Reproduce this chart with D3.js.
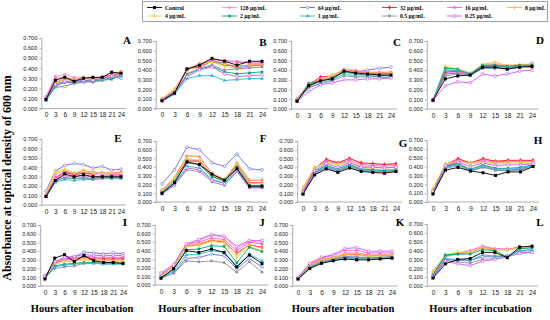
<!DOCTYPE html>
<html>
<head>
<meta charset="utf-8">
<script src="https://cdn.jsdelivr.net/npm/d3@7/dist/d3.min.js"></script>
<style>
  html, body { margin: 0; padding: 0; background: #fff; }
  svg { display: block; font-family: "Liberation Serif", "Times New Roman", serif; }
</style>
</head>
<body>
<div id="chart"></div>
<script>
// --- data (absorbance, OD600) ---
const hours = [0, 3, 6, 9, 12, 15, 18, 21, 24];
const seriesNames = ["Control", "128 µg/mL", "64 µg/mL", "32 µg/mL", "16 µg/mL", "8 µg/mL",
                     "4 µg/mL", "2 µg/mL", "1 µg/mL", "0.5 µg/mL", "0.25 µg/mL"];
const yTicks = [0, 0.1, 0.2, 0.3, 0.4, 0.5, 0.6, 0.7];
const panelLetters = ["A", "B", "C", "D", "E", "F", "G", "H", "I", "J", "K", "L"];

// rows follow seriesNames order
const panelA = [
  [0.09,0.28,0.31,0.27,0.30,0.31,0.31,0.36,0.35],
  [0.12,0.32,0.34,0.31,0.31,0.30,0.31,0.33,0.36],
  [0.09,0.21,0.22,0.25,0.26,0.27,0.29,0.31,0.30],
  [0.10,0.26,0.29,0.28,0.30,0.29,0.31,0.33,0.35],
  [0.11,0.30,0.31,0.29,0.31,0.30,0.31,0.34,0.36],
  [0.10,0.26,0.30,0.29,0.31,0.28,0.30,0.33,0.37],
  [0.10,0.25,0.29,0.28,0.30,0.29,0.30,0.32,0.35],
  [0.08,0.22,0.26,0.26,0.28,0.27,0.28,0.29,0.33],
  [0.08,0.24,0.27,0.26,0.27,0.27,0.29,0.30,0.32],
  [0.09,0.23,0.26,0.25,0.27,0.26,0.28,0.31,0.33],
  [0.10,0.24,0.27,0.27,0.28,0.28,0.30,0.32,0.34]
];
const panelB = [
  [0.08,0.16,0.41,0.45,0.52,0.49,0.45,0.49,0.49],
  [0.09,0.19,0.40,0.46,0.50,0.49,0.49,0.48,0.48],
  [0.09,0.17,0.40,0.45,0.49,0.47,0.42,0.44,0.45],
  [0.09,0.17,0.41,0.43,0.49,0.45,0.44,0.45,0.45],
  [0.10,0.19,0.41,0.46,0.51,0.50,0.48,0.47,0.47],
  [0.10,0.20,0.40,0.47,0.48,0.46,0.44,0.45,0.45],
  [0.10,0.20,0.39,0.46,0.48,0.44,0.41,0.43,0.43],
  [0.08,0.15,0.35,0.41,0.44,0.38,0.36,0.37,0.38],
  [0.08,0.15,0.31,0.34,0.34,0.29,0.30,0.31,0.31],
  [0.09,0.16,0.36,0.42,0.45,0.40,0.41,0.42,0.43],
  [0.09,0.16,0.33,0.40,0.43,0.36,0.33,0.34,0.35]
];
const panelC = [
  [0.08,0.24,0.29,0.31,0.39,0.37,0.36,0.35,0.35],
  [0.10,0.27,0.30,0.34,0.41,0.40,0.38,0.38,0.38],
  [0.09,0.23,0.29,0.32,0.38,0.38,0.40,0.42,0.43],
  [0.10,0.25,0.33,0.34,0.40,0.39,0.37,0.36,0.37],
  [0.10,0.25,0.31,0.33,0.40,0.38,0.37,0.37,0.37],
  [0.09,0.26,0.30,0.35,0.40,0.39,0.38,0.37,0.38],
  [0.09,0.25,0.29,0.34,0.39,0.37,0.36,0.35,0.36],
  [0.08,0.26,0.29,0.32,0.38,0.36,0.35,0.35,0.34],
  [0.08,0.22,0.27,0.30,0.36,0.34,0.34,0.33,0.33],
  [0.09,0.22,0.26,0.29,0.34,0.33,0.33,0.33,0.32],
  [0.08,0.18,0.25,0.27,0.30,0.30,0.31,0.31,0.32]
];
const panelD = [
  [0.09,0.31,0.34,0.35,0.43,0.43,0.41,0.43,0.44],
  [0.09,0.37,0.38,0.36,0.44,0.45,0.43,0.44,0.45],
  [0.09,0.36,0.37,0.35,0.42,0.42,0.42,0.43,0.47],
  [0.09,0.38,0.39,0.36,0.44,0.44,0.43,0.44,0.43],
  [0.09,0.40,0.40,0.36,0.45,0.46,0.44,0.45,0.46],
  [0.09,0.43,0.41,0.37,0.46,0.48,0.45,0.46,0.46],
  [0.09,0.44,0.41,0.37,0.45,0.47,0.44,0.45,0.45],
  [0.09,0.42,0.41,0.36,0.45,0.45,0.44,0.45,0.45],
  [0.09,0.40,0.40,0.36,0.44,0.44,0.43,0.44,0.44],
  [0.09,0.34,0.36,0.34,0.42,0.42,0.41,0.43,0.44],
  [0.09,0.24,0.28,0.27,0.36,0.34,0.36,0.39,0.40]
];
const panelE = [
  [0.09,0.26,0.33,0.30,0.32,0.30,0.30,0.30,0.30],
  [0.11,0.30,0.34,0.33,0.34,0.32,0.33,0.32,0.32],
  [0.15,0.36,0.42,0.44,0.43,0.39,0.41,0.37,0.38],
  [0.10,0.28,0.35,0.32,0.34,0.33,0.34,0.33,0.33],
  [0.10,0.29,0.36,0.33,0.36,0.35,0.34,0.34,0.35],
  [0.11,0.33,0.37,0.34,0.36,0.34,0.34,0.34,0.34],
  [0.12,0.35,0.38,0.34,0.37,0.34,0.33,0.34,0.33],
  [0.09,0.26,0.29,0.28,0.29,0.28,0.30,0.29,0.29],
  [0.09,0.24,0.27,0.26,0.27,0.27,0.28,0.28,0.28],
  [0.09,0.25,0.29,0.28,0.29,0.27,0.29,0.29,0.29],
  [0.10,0.27,0.31,0.30,0.31,0.30,0.31,0.31,0.31]
];
const panelF = [
  [0.10,0.22,0.46,0.43,0.32,0.25,0.38,0.18,0.18],
  [0.12,0.26,0.49,0.47,0.31,0.25,0.42,0.21,0.21],
  [0.21,0.37,0.63,0.60,0.45,0.41,0.55,0.38,0.37],
  [0.13,0.27,0.47,0.47,0.30,0.24,0.43,0.22,0.22],
  [0.14,0.28,0.53,0.52,0.32,0.26,0.45,0.25,0.25],
  [0.14,0.28,0.53,0.52,0.33,0.26,0.45,0.25,0.25],
  [0.13,0.27,0.50,0.48,0.31,0.25,0.44,0.21,0.21],
  [0.11,0.24,0.45,0.43,0.29,0.24,0.40,0.19,0.19],
  [0.10,0.21,0.41,0.39,0.26,0.22,0.38,0.17,0.17],
  [0.09,0.19,0.37,0.35,0.23,0.19,0.35,0.16,0.16],
  [0.10,0.20,0.39,0.37,0.25,0.21,0.36,0.17,0.17]
];
const panelG = [
  [0.09,0.31,0.38,0.34,0.39,0.35,0.34,0.33,0.35],
  [0.12,0.38,0.48,0.45,0.50,0.44,0.44,0.43,0.44],
  [0.10,0.33,0.40,0.36,0.41,0.37,0.36,0.35,0.36],
  [0.12,0.38,0.49,0.45,0.50,0.45,0.44,0.43,0.44],
  [0.13,0.39,0.47,0.44,0.48,0.43,0.42,0.41,0.42],
  [0.15,0.39,0.45,0.44,0.46,0.41,0.40,0.39,0.40],
  [0.17,0.40,0.44,0.43,0.45,0.40,0.38,0.37,0.38],
  [0.11,0.35,0.42,0.38,0.43,0.38,0.37,0.36,0.37],
  [0.10,0.34,0.41,0.37,0.42,0.37,0.36,0.35,0.36],
  [0.09,0.32,0.39,0.35,0.40,0.36,0.35,0.34,0.35],
  [0.11,0.36,0.44,0.40,0.45,0.40,0.40,0.39,0.40]
];
const panelH = [
  [0.09,0.36,0.39,0.35,0.33,0.30,0.34,0.34,0.40],
  [0.12,0.42,0.48,0.44,0.48,0.46,0.47,0.47,0.47],
  [0.10,0.40,0.44,0.35,0.40,0.36,0.36,0.37,0.41],
  [0.12,0.42,0.49,0.44,0.49,0.46,0.47,0.47,0.47],
  [0.13,0.42,0.47,0.44,0.47,0.45,0.46,0.46,0.46],
  [0.14,0.43,0.46,0.44,0.46,0.44,0.45,0.45,0.45],
  [0.15,0.43,0.45,0.43,0.45,0.43,0.44,0.44,0.44],
  [0.11,0.40,0.43,0.37,0.42,0.38,0.38,0.39,0.42],
  [0.10,0.39,0.42,0.36,0.41,0.37,0.37,0.38,0.41],
  [0.10,0.38,0.41,0.35,0.39,0.36,0.35,0.36,0.40],
  [0.12,0.41,0.45,0.40,0.44,0.41,0.42,0.42,0.43]
];
const panelI = [
  [0.08,0.32,0.36,0.28,0.35,0.29,0.27,0.27,0.26],
  [0.11,0.27,0.32,0.32,0.34,0.33,0.32,0.32,0.32],
  [0.12,0.25,0.31,0.33,0.39,0.38,0.37,0.38,0.37],
  [0.10,0.26,0.30,0.30,0.33,0.31,0.31,0.31,0.31],
  [0.11,0.27,0.31,0.32,0.34,0.33,0.33,0.33,0.33],
  [0.11,0.26,0.30,0.30,0.31,0.30,0.29,0.29,0.29],
  [0.12,0.25,0.28,0.28,0.30,0.29,0.28,0.28,0.28],
  [0.09,0.23,0.25,0.26,0.27,0.27,0.26,0.26,0.26],
  [0.09,0.22,0.24,0.25,0.26,0.26,0.25,0.25,0.25],
  [0.10,0.20,0.22,0.23,0.26,0.26,0.26,0.26,0.26],
  [0.11,0.28,0.33,0.34,0.36,0.35,0.35,0.35,0.35]
];
const panelJ = [
  [0.08,0.19,0.40,0.38,0.42,0.38,0.21,0.35,0.25],
  [0.13,0.23,0.47,0.52,0.58,0.56,0.43,0.51,0.50],
  [0.08,0.14,0.31,0.32,0.36,0.34,0.19,0.31,0.21],
  [0.11,0.21,0.45,0.47,0.52,0.50,0.37,0.47,0.44],
  [0.12,0.22,0.47,0.50,0.55,0.53,0.40,0.50,0.48],
  [0.11,0.21,0.46,0.48,0.53,0.51,0.36,0.47,0.43],
  [0.10,0.21,0.45,0.46,0.51,0.49,0.32,0.45,0.40],
  [0.09,0.18,0.41,0.42,0.46,0.45,0.26,0.44,0.39],
  [0.09,0.16,0.35,0.36,0.40,0.38,0.22,0.36,0.28],
  [0.08,0.14,0.28,0.27,0.28,0.26,0.15,0.27,0.15],
  [0.14,0.24,0.48,0.53,0.59,0.57,0.45,0.52,0.52]
];
const panelK = [
  [0.08,0.20,0.26,0.29,0.31,0.30,0.30,0.31,0.32],
  [0.10,0.24,0.31,0.33,0.38,0.38,0.36,0.36,0.36],
  [0.09,0.22,0.28,0.31,0.34,0.33,0.33,0.33,0.34],
  [0.09,0.23,0.30,0.32,0.36,0.36,0.35,0.35,0.35],
  [0.10,0.25,0.32,0.35,0.41,0.41,0.38,0.38,0.38],
  [0.09,0.24,0.30,0.33,0.37,0.37,0.35,0.35,0.36],
  [0.09,0.23,0.29,0.32,0.36,0.35,0.34,0.34,0.35],
  [0.08,0.21,0.27,0.30,0.33,0.32,0.32,0.32,0.33],
  [0.08,0.21,0.27,0.29,0.32,0.31,0.31,0.31,0.32],
  [0.09,0.22,0.28,0.30,0.33,0.33,0.32,0.32,0.33],
  [0.10,0.26,0.33,0.36,0.43,0.44,0.40,0.40,0.40]
];
const panelL = [
  [0.09,0.25,0.30,0.31,0.38,0.38,0.32,0.44,0.45],
  [0.12,0.33,0.36,0.38,0.44,0.42,0.41,0.43,0.44],
  [0.10,0.30,0.29,0.29,0.33,0.33,0.34,0.40,0.41],
  [0.13,0.34,0.37,0.38,0.43,0.41,0.41,0.44,0.44],
  [0.14,0.34,0.37,0.40,0.45,0.42,0.42,0.43,0.44],
  [0.16,0.35,0.38,0.38,0.43,0.41,0.41,0.43,0.44],
  [0.17,0.35,0.38,0.38,0.43,0.41,0.41,0.43,0.44],
  [0.12,0.35,0.36,0.36,0.41,0.40,0.33,0.42,0.43],
  [0.11,0.31,0.30,0.29,0.35,0.34,0.34,0.39,0.40],
  [0.10,0.29,0.27,0.26,0.30,0.31,0.33,0.37,0.38],
  [0.10,0.28,0.25,0.23,0.28,0.30,0.33,0.37,0.38]
];
const panels = [panelA, panelB, panelC, panelD, panelE, panelF,
                panelG, panelH, panelI, panelJ, panelK, panelL];

// --- styling ---
const colors = ["#000000", "#ff8fc8", "#6b6bd6", "#ff1a1a", "#ff5fd0", "#ffab5a",
                "#e0d44c", "#00a36c", "#2bb7cf", "#8e8ea6", "#c45ef0"];
const symbols = [d3.symbolSquare, d3.symbolCircle, d3.symbolCircle, d3.symbolDiamond,
                 d3.symbolTriangle, d3.symbolCross, d3.symbolDiamond, d3.symbolSquare,
                 d3.symbolTriangle, d3.symbolCircle, d3.symbolSquare];
const hollow = [false, false, true, false, false, false, false, false, false, false, true];

// panel frames: x of hour 0, x of hour 24, y of 0.7, y of 0
const frames = [
  [46, 121, 38, 108.5], [162, 262, 41, 108.5], [297, 391, 41, 109], [433, 532, 41, 109],
  [46, 121, 139, 205], [162, 262, 141, 202], [303, 396, 141, 202], [433, 533, 140, 202],
  [45, 123, 225, 286], [161, 262, 225, 285], [298, 392, 225, 286], [433, 532, 224, 286]
];
const letterPos = [[127, 44], [263, 46], [397, 46], [540, 44],
                   [118, 142], [263, 142], [403, 147], [538, 144],
                   [125, 226], [262, 226], [400, 226], [540, 226]];

const W = 550, H = 320;
const svg = d3.select("#chart").append("svg").attr("width", W).attr("height", H);

panels.forEach((rows, p) => {
  const [x0, x1, yt, yb] = frames[p];
  const x = d3.scalePoint().domain(hours).range([x0, x1]);
  const y = d3.scaleLinear().domain([0, 0.7]).range([yb, yt]);
  const left = x0 - x.step() / 2, right = x1 + x.step() / 2;
  const g = svg.append("g");

  g.append("g")
    .attr("transform", `translate(${left},0)`)
    .call(d3.axisLeft(y).tickValues(yTicks).tickFormat(d3.format(".3f")).tickSize(2).tickPadding(2))
    .call(a => a.selectAll("text").attr("font-size", 5.6).attr("fill", "#222"));

  const xa = g.append("g")
    .attr("transform", `translate(0,${yb})`)
    .call(d3.axisBottom(x).tickSize(0).tickPadding(4));
  xa.select(".domain").attr("d", `M${left},0H${right}`);
  xa.selectAll("text").attr("font-size", 6.5).attr("fill", "#222");
  g.selectAll(".domain").attr("stroke", "#9a9a9a").attr("stroke-width", 0.8);
  g.selectAll(".tick line").attr("stroke", "#9a9a9a").attr("stroke-width", 0.7);

  const line = d3.line().x((d, i) => x(hours[i])).y(d => y(d));
  // draw treatments first, control last so it stays on top
  const order = d3.range(rows.length).slice(1).concat([0]);
  order.forEach(s => {
    g.append("path")
      .attr("d", line(rows[s]))
      .attr("fill", "none")
      .attr("stroke", colors[s])
      .attr("stroke-width", 0.9);
    g.selectAll(null)
      .data(rows[s])
      .join("path")
      .attr("transform", (d, i) => `translate(${x(hours[i])},${y(d)})`)
      .attr("d", d3.symbol(symbols[s], s === 0 ? 9 : 6))
      .attr("fill", hollow[s] ? "#fff" : colors[s])
      .attr("stroke", colors[s])
      .attr("stroke-width", hollow[s] ? 0.6 : 0);
  });

  svg.append("text")
    .attr("x", letterPos[p][0]).attr("y", letterPos[p][1])
    .attr("text-anchor", "middle")
    .attr("font-size", 11).attr("font-weight", "bold")
    .text(panelLetters[p]);

  if (p >= 8) {
    svg.append("text")
      .attr("x", (left + right) / 2 - 2).attr("y", 312)
      .attr("text-anchor", "middle")
      .attr("font-size", 10.5).attr("font-weight", "bold")
      .text("Hours after incubation");
  }
});

// y-axis title
svg.append("text")
  .attr("transform", "translate(11,178) rotate(-90)")
  .attr("text-anchor", "middle")
  .attr("font-size", 12).attr("font-weight", "bold")
  .text("Absorbance at optical density of 600 nm");

// legend
const lg = svg.append("g");
lg.append("rect")
  .attr("x", 142.5).attr("y", 1.5).attr("width", 405).attr("height", 20)
  .attr("fill", "#fff").attr("stroke", "#8a8a8a").attr("stroke-width", 0.8);
const colX = [147, 222, 300, 382, 447, 507];
seriesNames.forEach((name, s) => {
  const row = s < 6 ? 0 : 1;
  const col = s < 6 ? s : s - 6;
  const lx = colX[col], ly = row === 0 ? 7.5 : 16;
  lg.append("line")
    .attr("x1", lx).attr("x2", lx + 15).attr("y1", ly).attr("y2", ly)
    .attr("stroke", colors[s]).attr("stroke-width", 0.9);
  lg.append("path")
    .attr("transform", `translate(${lx + 7.5},${ly})`)
    .attr("d", d3.symbol(symbols[s], s === 0 ? 9 : 6))
    .attr("fill", hollow[s] ? "#fff" : colors[s])
    .attr("stroke", colors[s]).attr("stroke-width", hollow[s] ? 0.6 : 0);
  lg.append("text")
    .attr("x", lx + 18).attr("y", ly + 2)
    .attr("font-size", 5.7).attr("font-weight", "bold")
    .text(name);
});
</script>
</body>
</html>
